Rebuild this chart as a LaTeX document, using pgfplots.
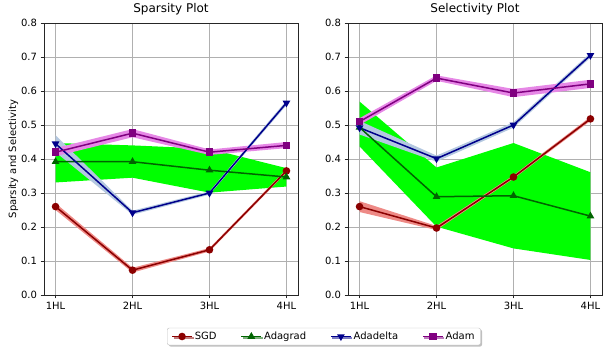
\documentclass[border=0pt]{standalone}
\usepackage{pgfplots}
\pgfplotsset{compat=1.18}
\usepackage{fontspec}
\setmainfont{DejaVu Sans}
\usetikzlibrary{shadows}
\definecolor{sgd}{HTML}{8B0000}
\definecolor{ada}{HTML}{006400}
\definecolor{adel}{HTML}{00008B}
\definecolor{adam}{HTML}{800080}
\definecolor{sgdb}{HTML}{EE8A86}
\definecolor{adab}{HTML}{00FF00}
\definecolor{adelb}{HTML}{B4C8E0}
\definecolor{adamb}{HTML}{E688E6}
\definecolor{gridc}{HTML}{B0B0B0}
\pgfplotsset{
  base/.style={
    scale only axis, width=254pt, height=272pt,
    xmin=-0.15, xmax=3.15, ymin=0, ymax=0.8,
    xtick={0,1,2,3}, xticklabels={1HL,2HL,3HL,4HL},
    ytick={0,0.1,...,0.8},
    yticklabel style={/pgf/number format/.cd, fixed, fixed zerofill, precision=1},
    /pgf/number format/assume math mode=true,
    grid=major, major grid style={gridc, line width=0.8pt},
    axis line style={black!85, line width=0.8pt},
    tick style={black!85, line width=0.8pt},
    tick align=outside, major tick length=3.5pt,
    xtick pos=bottom, ytick pos=left,
    ticklabel style={font=\fontsize{10}{12}\selectfont},
    title style={font=\fontsize{12}{14}\selectfont, yshift=-2pt},
    label style={font=\fontsize{10}{12}\selectfont},
  },
  ln/.style={line width=1.5pt, mark size=3pt},
}
\begin{document}
\begin{tikzpicture}
\path[use as bounding box] (-44pt,-57pt) rectangle (565pt,295pt);
\begin{axis}[base, title={Sparsity Plot}, ylabel={Sparsity and Selectivity},
  ylabel style={yshift=-4pt},
  legend columns=4,
  legend style={at={(1.102,-0.1526)}, anchor=center, draw=gray!50, rounded corners=2pt,
    fill=white, drop shadow={shadow xshift=1.5pt, shadow yshift=-1.5pt, opacity=0.5},
    font=\fontsize{10}{12}\selectfont, inner xsep=4pt, inner ysep=2pt,
    /tikz/every even column/.append style={column sep=22pt}},
  legend image code/.code={\draw[#1] (0pt,0pt) -- (10pt,0pt) -- (20pt,0pt); \draw[#1, only marks] plot coordinates {(10pt,0pt)};},
]
% bands
\addplot[draw=none, fill=adab, forget plot] coordinates {(0,0.447) (1,0.440) (2,0.430) (3,0.373) (3,0.319) (2,0.301) (1,0.345) (0,0.331)} -- cycle;
\addplot[draw=none, fill=sgdb, forget plot] coordinates {(0,0.270) (1,0.080) (2,0.138) (3,0.370) (3,0.360) (2,0.128) (1,0.066) (0,0.250)} -- cycle;
\addplot[draw=none, fill=adelb, forget plot] coordinates {(0,0.470) (1,0.248) (2,0.305) (3,0.572) (3,0.558) (2,0.295) (1,0.236) (0,0.420)} -- cycle;
\addplot[draw=none, fill=adamb, forget plot] coordinates {(0,0.432) (1,0.488) (2,0.428) (3,0.450) (3,0.432) (2,0.412) (1,0.464) (0,0.408)} -- cycle;
% lines
\addplot[sgd, ln, mark=*, mark options={fill=sgd, draw=sgd}] coordinates {(0,0.260) (1,0.073) (2,0.133) (3,0.365)};
\addlegendentry{SGD}
\addplot[ada, ln, mark=triangle*, mark options={fill=ada, draw=ada}] coordinates {(0,0.392) (1,0.392) (2,0.367) (3,0.347)};
\addlegendentry{Adagrad}
\addplot[adel, ln, mark=triangle*, mark options={rotate=180, fill=adel, draw=adel}] coordinates {(0,0.445) (1,0.242) (2,0.300) (3,0.565)};
\addlegendentry{Adadelta}
\addplot[adam, ln, mark=square*, mark options={fill=adam, draw=adam}] coordinates {(0,0.420) (1,0.476) (2,0.420) (3,0.440)};
\addlegendentry{Adam}
\end{axis}
\begin{axis}[base, at={(304pt,0pt)}, title={Selectivity Plot}]
\addplot[draw=none, fill=adab, forget plot] coordinates {(0,0.569) (1,0.375) (2,0.447) (3,0.361) (3,0.103) (2,0.137) (1,0.201) (0,0.437)} -- cycle;
\addplot[draw=none, fill=sgdb, forget plot] coordinates {(0,0.276) (1,0.203) (2,0.352) (3,0.524) (3,0.512) (2,0.342) (1,0.191) (0,0.244)} -- cycle;
\addplot[draw=none, fill=adelb, forget plot] coordinates {(0,0.512) (1,0.410) (2,0.508) (3,0.712) (3,0.698) (2,0.492) (1,0.392) (0,0.472)} -- cycle;
\addplot[draw=none, fill=adamb, forget plot] coordinates {(0,0.520) (1,0.646) (2,0.606) (3,0.633) (3,0.609) (2,0.582) (1,0.630) (0,0.500)} -- cycle;
\addplot[sgd, ln, mark=*, mark options={fill=sgd, draw=sgd}] coordinates {(0,0.260) (1,0.197) (2,0.347) (3,0.518)};
\addplot[ada, ln, mark=triangle*, mark options={fill=ada, draw=ada}] coordinates {(0,0.493) (1,0.289) (2,0.292) (3,0.232)};
\addplot[adel, ln, mark=triangle*, mark options={rotate=180, fill=adel, draw=adel}] coordinates {(0,0.492) (1,0.401) (2,0.500) (3,0.705)};
\addplot[adam, ln, mark=square*, mark options={fill=adam, draw=adam}] coordinates {(0,0.510) (1,0.638) (2,0.594) (3,0.621)};
\end{axis}
\end{tikzpicture}
\end{document}
